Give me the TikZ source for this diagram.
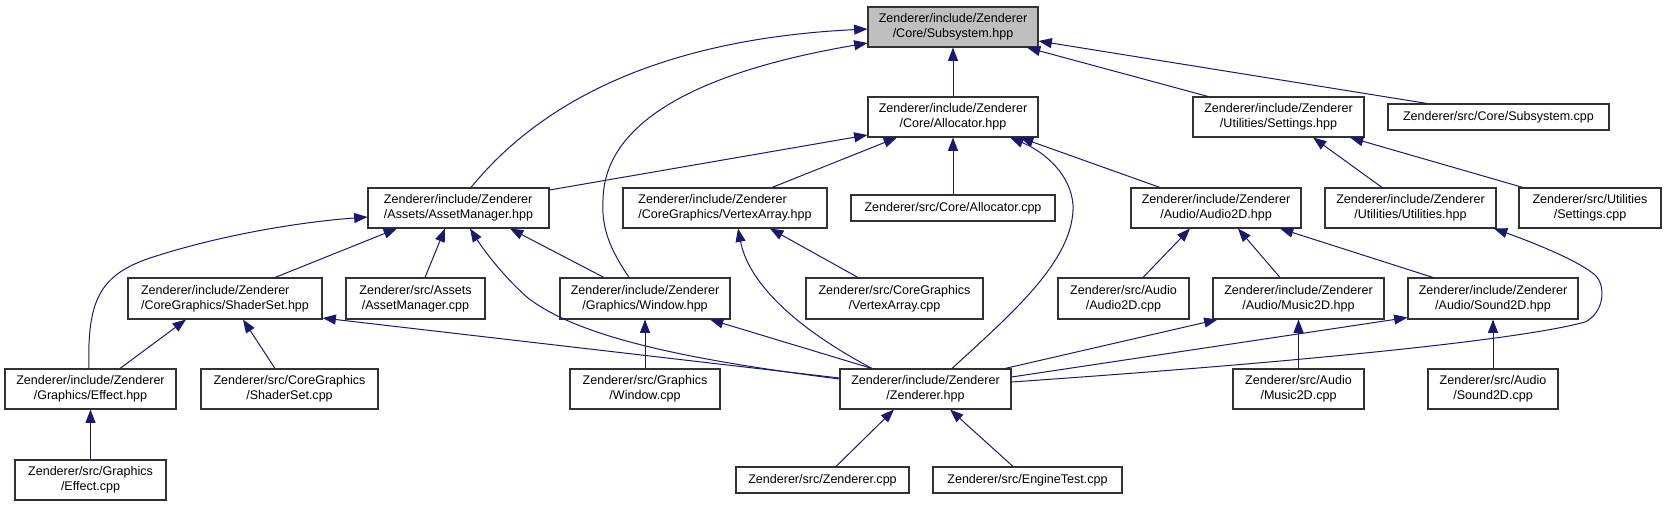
\documentclass[tikz,border=0pt]{standalone}
\usepackage{fontspec}
\setmainfont{Liberation Sans}
\usetikzlibrary{arrows.meta,calc}
\definecolor{edgec}{RGB}{25,25,112}
\definecolor{boxc}{RGB}{50,50,50}
\definecolor{subfill}{RGB}{191,191,191}
\tikzset{
  box/.style={draw=boxc, line width=0.8pt, fill=white, inner sep=0pt,
    font=\fontsize{9.4}{11.25}\selectfont, text=black},
  edge/.style={draw=edgec, line width=0.75pt, -{Triangle[length=10pt,width=7.5pt]}, fill=none},
}
\newcommand\mkbox[7][align=center]{%
  \node[box,#1,minimum width={(#4-#2)*0.75pt},minimum height={(#5-#3)*0.75pt}] (#6) at ({(#2+#4)/2},{(#3+#5)/2}) {#7};}
\begin{document}
\begin{tikzpicture}[x=0.75pt,y=-0.75pt]
\useasboundingbox (0,0) rectangle (1667,507);
% row 0
\mkbox[align=center,fill=subfill]{868}{7}{1038}{47}{sub}{Zenderer/include/Zenderer\\/Core/Subsystem.hpp}
% row 1
\mkbox{868}{97}{1038}{137}{alloc}{Zenderer/include/Zenderer\\/Core/Allocator.hpp}
\mkbox{1193}{97}{1364}{137}{settings}{Zenderer/include/Zenderer\\/Utilities/Settings.hpp}
\mkbox{1388}{104}{1609}{130}{subcpp}{Zenderer/src/Core/Subsystem.cpp}
% row 2
\mkbox[align=left]{368}{188}{549}{228}{asset}{Zenderer/include/Zenderer\\/Assets/AssetManager.hpp}
\mkbox[align=left]{623}{188}{827}{228}{vahpp}{Zenderer/include/Zenderer\\/CoreGraphics/VertexArray.hpp}
\mkbox{851}{195}{1055}{221}{alloccpp}{Zenderer/src/Core/Allocator.cpp}
\mkbox{1131}{188}{1301}{228}{audio}{Zenderer/include/Zenderer\\/Audio/Audio2D.hpp}
\mkbox{1325}{188}{1496}{228}{util}{Zenderer/include/Zenderer\\/Utilities/Utilities.hpp}
\mkbox{1519}{188}{1661}{228}{setcpp}{Zenderer/src/Utilities\\/Settings.cpp}
% row 3
\mkbox[align=left]{128}{278}{322}{319}{shader}{Zenderer/include/Zenderer\\/CoreGraphics/ShaderSet.hpp}
\mkbox{346}{278}{485}{319}{assetcpp}{Zenderer/src/Assets\\/AssetManager.cpp}
\mkbox{560}{278}{730}{319}{window}{Zenderer/include/Zenderer\\/Graphics/Window.hpp}
\mkbox{806}{278}{983}{319}{vacpp}{Zenderer/src/CoreGraphics\\/VertexArray.cpp}
\mkbox{1058}{278}{1189}{319}{audiocpp}{Zenderer/src/Audio\\/Audio2D.cpp}
\mkbox{1213}{278}{1384}{319}{music}{Zenderer/include/Zenderer\\/Audio/Music2D.hpp}
\mkbox{1408}{278}{1578}{319}{sound}{Zenderer/include/Zenderer\\/Audio/Sound2D.hpp}
% row 4
\mkbox{5}{369}{176}{409}{effect}{Zenderer/include/Zenderer\\/Graphics/Effect.hpp}
\mkbox{201}{369}{378}{409}{shadercpp}{Zenderer/src/CoreGraphics\\/ShaderSet.cpp}
\mkbox{570}{369}{720}{409}{windowcpp}{Zenderer/src/Graphics\\/Window.cpp}
\mkbox{840}{369}{1011}{409}{zend}{Zenderer/include/Zenderer\\/Zenderer.hpp}
\mkbox{1233}{369}{1364}{409}{musiccpp}{Zenderer/src/Audio\\/Music2D.cpp}
\mkbox{1428}{369}{1558}{409}{soundcpp}{Zenderer/src/Audio\\/Sound2D.cpp}
% row 5
\mkbox{15}{460}{166}{500}{effectcpp}{Zenderer/src/Graphics\\/Effect.cpp}
\mkbox{736}{467}{909}{493}{zendcpp}{Zenderer/src/Zenderer.cpp}
\mkbox{933}{467}{1122}{493}{engine}{Zenderer/src/EngineTest.cpp}
% edges to Subsystem.hpp
\draw[edge] ($(asset.north)+(12.5,0)$) .. controls (530,115) and (640,40) .. ($(sub.west)+(0,2)$);
\draw[edge] ($(window.north)+(-16,0)$) .. controls (612,252) and (601,230) .. (603,200) .. controls (604,130) and (680,75) .. ($(sub.west)+(0,16)$);
\draw[edge] (alloc.north) -- (sub.south);
\draw[edge] ($(settings.north)+(-70.5,0)$) -- ($(sub.south)+(74,0)$);
\draw[edge] ($(subcpp.north)+(-71.5,0)$) -- ($(sub.east)+(0,14)$);
% edges to Allocator.hpp
\draw[edge] ($(asset.east)+(0,-18)$) -- ($(alloc.west)+(0,18)$);
\draw[edge] ($(vahpp.north)+(47,0)$) -- ($(alloc.south)+(-56,0)$);
\draw[edge] (alloccpp.north) -- (alloc.south);
\draw[edge] ($(zend.north)+(26.5,0)$) .. controls (1010,315) and (1075,260) .. (1073,205) .. controls (1071,175) and (1045,152) .. ($(alloc.south)+(57,0)$);
\draw[edge] ($(audio.north)+(-56,0)$) -- ($(alloc.south)+(67,0)$);
% edges to Settings.hpp
\draw[edge] ($(util.north)+(-28.5,0)$) -- ($(settings.south)+(34.5,0)$);
\draw[edge] ($(setcpp.north)+(-67,0)$) -- ($(settings.south)+(71.5,0)$);
% edges to AssetManager.hpp
\draw[edge] ($(effect.north)+(-1.5,0)$) .. controls (87,300) and (100,275) .. (150,258) .. controls (220,235) and (300,222) .. ($(asset.west)+(0,9)$);
\draw[edge] ($(shader.north)+(50,0)$) -- ($(asset.south)+(-61.5,0)$);
\draw[edge] ($(assetcpp.north)+(9.5,0)$) -- ($(asset.south)+(-13.5,0)$);
\draw[edge] ($(zend.west)+(0,-10)$) .. controls (690,360) and (580,338) .. (528,298) .. controls (505,278) and (485,252) .. ($(asset.south)+(11.5,0)$);
\draw[edge] ($(window.north)+(-41,0)$) -- ($(asset.south)+(51.5,0)$);
% edges to VertexArray.hpp
\draw[edge] ($(zend.north)+(-53.5,0)$) .. controls (790,325) and (748,280) .. ($(vahpp.south)+(13,0)$);
\draw[edge] ($(vacpp.north)+(-36.5,0)$) -- ($(vahpp.south)+(45,0)$);
% edges to Audio2D.hpp
\draw[edge] ($(audiocpp.north)+(19.5,0)$) -- ($(audio.south)+(-26,0)$);
\draw[edge] ($(music.north)+(-18.5,0)$) -- ($(audio.south)+(22,0)$);
\draw[edge] ($(sound.north)+(-60,0)$) -- ($(audio.south)+(64,0)$);
% edge to Utilities.hpp
\draw[edge] ($(zend.east)+(0,-7)$) .. controls (1300,362) and (1520,340) .. (1585,322) .. controls (1605,312) and (1606,285) .. (1595,275) .. controls (1580,262) and (1540,245) .. ($(util.south)+(83.5,0)$);
% edges to ShaderSet.hpp
\draw[edge] ($(effect.north)+(29.5,0)$) -- ($(shader.south)+(-39,0)$);
\draw[edge] ($(shadercpp.north)+(-14.5,0)$) -- ($(shader.south)+(18,0)$);
\draw[edge] ($(zend.west)+(0,-11)$) -- ($(shader.east)+(0,19.5)$);
% edges to Window.hpp
\draw[edge] (windowcpp.north) -- (window.south);
\draw[edge] ($(zend.north)+(-53.5,0)$) -- ($(window.south)+(65,0)$);
% edges to Zenderer.hpp
\draw[edge] ($(zendcpp.north)+(13.5,0)$) -- ($(zend.south)+(-31.5,0)$);
\draw[edge] ($(engine.north)+(-14.5,0)$) -- ($(zend.south)+(24.5,0)$);
% edges to Music2D / Sound2D
\draw[edge] ($(zend.north)+(79.5,0)$) -- ($(music.south west)+(5,0)$);
\draw[edge] (musiccpp.north) -- (music.south);
\draw[edge] ($(zend.east)+(0,-12)$) -- ($(sound.south west)+(0,-2)$);
\draw[edge] (soundcpp.north) -- (sound.south);
% Effect
\draw[edge] (effectcpp.north) -- (effect.south);
\end{tikzpicture}
\end{document}
